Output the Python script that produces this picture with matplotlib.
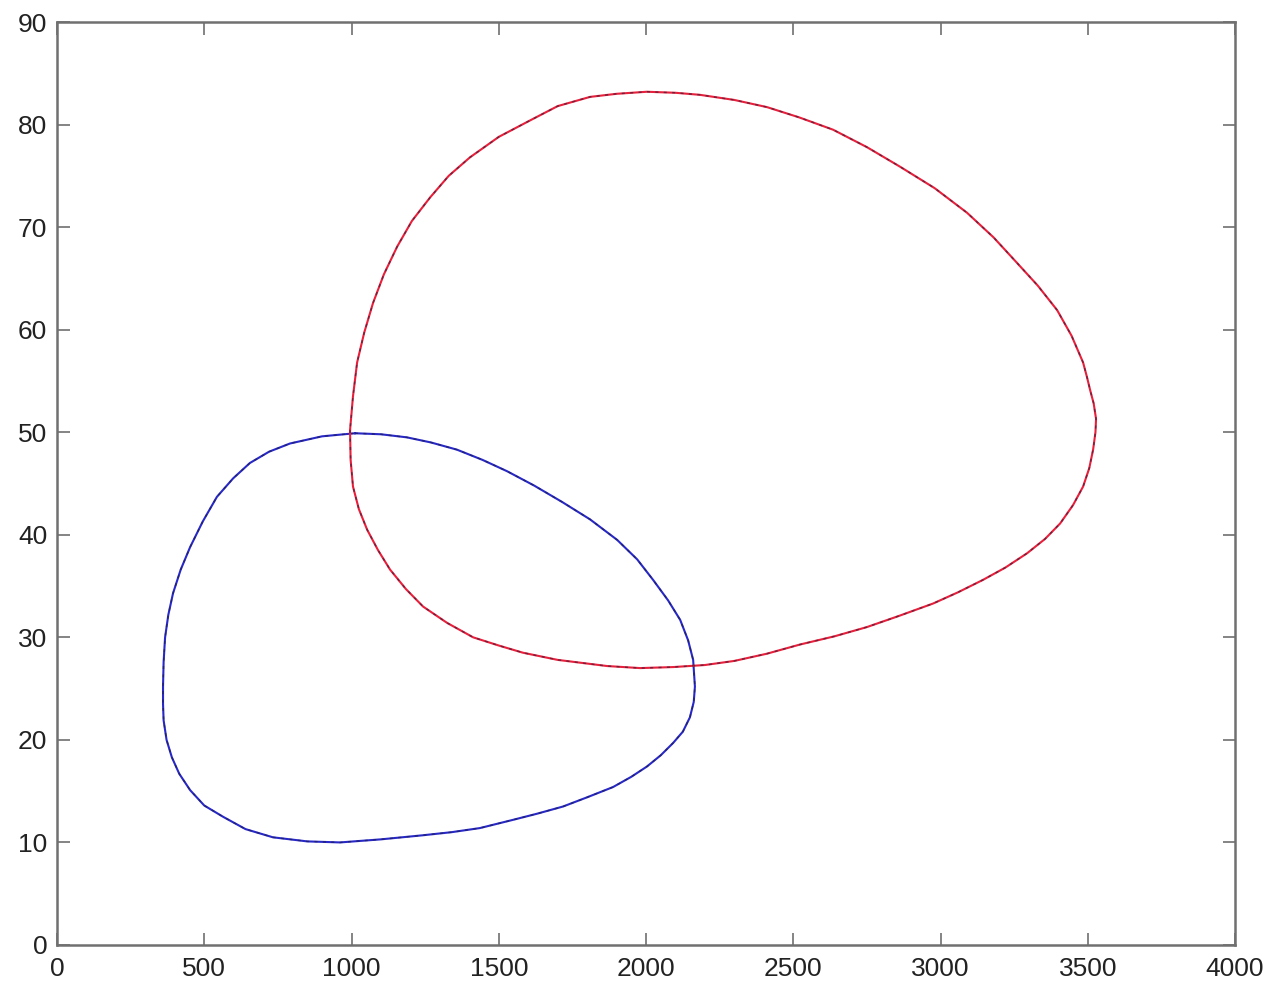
import matplotlib
matplotlib.use("Agg")
import matplotlib.pyplot as plt

plt.rcParams["font.family"] = ["Liberation Sans", "DejaVu Sans"]

# phase-plane orbits (x, y)
blue_x = [1012, 1100, 1188, 1270, 1358, 1445, 1528, 1620, 1715, 1810, 1902, 1970,
          2024, 2075, 2116, 2143, 2160, 2166, 2162, 2149, 2125, 2092, 2050, 2003,
          1950, 1888, 1800, 1718, 1630, 1548, 1436, 1340, 1243, 1100, 961, 850,
          733, 640, 564, 500, 452, 415, 390, 372, 362, 360, 360, 362, 367, 378,
          394, 420, 452, 495, 543, 598, 655, 720, 791, 900, 1012]
blue_y = [49.9, 49.8, 49.5, 49.0, 48.3, 47.3, 46.2, 44.8, 43.2, 41.5, 39.5, 37.6,
          35.6, 33.6, 31.7, 29.7, 27.8, 25.2, 23.7, 22.2, 20.8, 19.7, 18.5, 17.4,
          16.4, 15.4, 14.4, 13.5, 12.8, 12.2, 11.4, 11.0, 10.7, 10.3, 10.0, 10.1,
          10.5, 11.3, 12.5, 13.6, 15.1, 16.7, 18.3, 20.0, 21.9, 23.5, 25.2, 27.6,
          30.0, 32.2, 34.3, 36.6, 38.8, 41.3, 43.7, 45.5, 47.0, 48.1, 48.9, 49.6,
          49.9]

red_x = [995, 997, 1005, 1025, 1053, 1090, 1131, 1185, 1243, 1325, 1413, 1500,
         1582, 1700, 1868, 1980, 2092, 2200, 2300, 2410, 2523, 2640, 2750, 2860,
         2975, 3060, 3144, 3220, 3294, 3355, 3406, 3450, 3484, 3505, 3518, 3526,
         3528, 3520, 3508, 3497, 3484, 3445, 3396, 3330, 3260, 3180, 3090, 2980,
         2862, 2750, 2635, 2520, 2411, 2300, 2183, 2100, 2003, 1900, 1810, 1700,
         1606, 1500, 1402, 1330, 1267, 1205, 1155, 1110, 1073, 1043, 1019, 1005,
         995]
red_y = [50.2, 47.3, 44.7, 42.5, 40.5, 38.5, 36.6, 34.7, 33.0, 31.4, 30.0, 29.2,
         28.5, 27.8, 27.2, 27.0, 27.1, 27.3, 27.7, 28.4, 29.3, 30.1, 31.0, 32.1,
         33.3, 34.4, 35.6, 36.8, 38.2, 39.6, 41.1, 42.9, 44.7, 46.5, 48.3, 50.0,
         51.3, 52.8, 54.1, 55.4, 56.8, 59.4, 61.9, 64.3, 66.5, 69.0, 71.4, 73.8,
         75.9, 77.8, 79.5, 80.7, 81.7, 82.4, 82.9, 83.1, 83.2, 83.0, 82.7, 81.8,
         80.4, 78.8, 76.8, 75.0, 72.9, 70.6, 68.1, 65.4, 62.6, 59.7, 56.8, 53.5,
         50.2]

xticks = [0, 500, 1000, 1500, 2000, 2500, 3000, 3500, 4000]
yticks = [0, 10, 20, 30, 40, 50, 60, 70, 80, 90]

fig = plt.figure(figsize=(12.78, 9.92), dpi=100)
ax = fig.add_axes([0.0446, 0.0474, 0.9218, 0.9304])

for xs, ys, col in [(blue_x, blue_y, "#2828c8"), (red_x, red_y, "#e8203c")]:
    ax.plot(xs, ys, color=col, lw=1.5, solid_joinstyle="round")
    # darker stipple along the trace
    ax.plot(xs, ys, color="#1c1c38", lw=1.1, alpha=0.55, dashes=(2, 3.5))

ax.set_xlim(0, 4000)
ax.set_ylim(0, 90)
ax.set_xticks(xticks)
ax.set_yticks(yticks)
ax.tick_params(direction="in", length=9, width=1.2, color="#707070",
               top=True, right=True, labelsize=19, labelcolor="#222222")
ax.tick_params(axis="x", pad=9)
ax.tick_params(axis="y", pad=7)
for s in ax.spines.values():
    s.set_color("#707070")
    s.set_linewidth(1.8)

fig.savefig("out.png", dpi=100)
